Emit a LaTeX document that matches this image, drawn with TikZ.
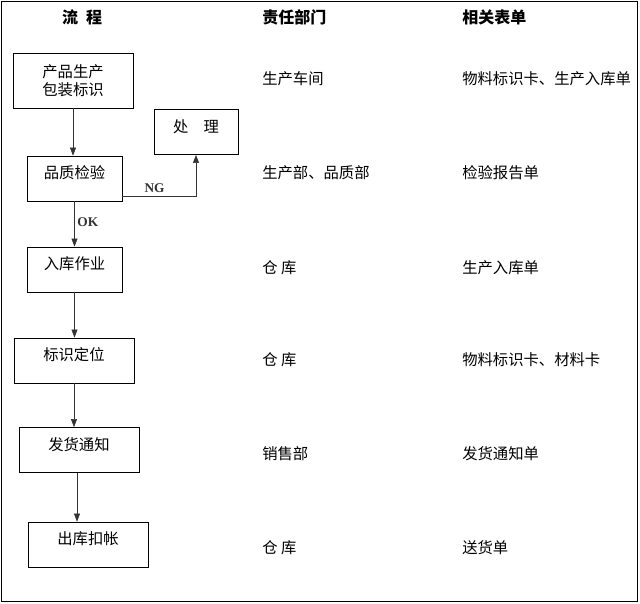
\documentclass[tikz,border=0pt]{standalone}
\usepackage{fontspec}
\setmainfont{Liberation Serif}
\newfontfamily\cjk{Noto Sans CJK SC}
\usetikzlibrary{arrows.meta, positioning}

\begin{document}
\begin{tikzpicture}[
        x=0.75pt, y=-0.75pt,
        font=\cjk\fontsize{11.5}{13.5}\selectfont,
        proc/.style={rectangle, draw, minimum width=90pt, minimum height=34pt, align=center, inner sep=1pt},
        up/.style={text height=9pt, text depth=9pt},
        head/.style={font=\cjk\bfseries\fontsize{12}{14}\selectfont},
        info/.style={anchor=west, inner sep=0pt},
        tag/.style={font=\bfseries\fontsize{10}{11}\selectfont, inner sep=2pt},
        arr/.style={-{Triangle[length=6pt, width=4.5pt]}, black!80},
    ]
    \useasboundingbox (0,0) rectangle (640,604);
    \draw (1.5,1.5) rectangle (637.5,601.5);

    % headings
    \node[head] (hflow) at (82,17) {流\enspace 程};
    \node[head, info] (hdept) at (262,17) {责任部门};
    \node[head, info] (hform) at (462,17) {相关表单};

    % flow boxes
    \node[proc, minimum height=41pt] (pack) at (73,80.5) {产品生产\\包装标识};
    \node[proc, up, minimum width=63pt] (deal) at (196,132) {处\quad 理};
    \node[proc, up, minimum width=71pt] (check) at (74.5,178.5) {品质检验};
    \node[proc, up, minimum width=71pt] (store) at (74.5,269.5) {入库作业};
    \node[proc, up] (locate) at (74,360.5) {标识定位};
    \node[proc, up] (notice) at (79,450) {发货通知};
    \node[proc, up] (out) at (88,544.5) {出库扣帐};

    \draw[arr] (pack.south) -- (pack.south |- check.north);
    \draw[arr] ([yshift=-13pt]check.east) -| node[tag, above, pos=0.22] {NG} (deal.south);
    \draw[arr] (check.south) -- node[tag, right, pos=0.45] {OK} (check.south |- store.north);
    \draw[arr] (store.south) -- (store.south |- locate.north);
    \draw[arr] (locate.south) -- (locate.south |- notice.north);
    \draw[arr] ([xshift=-1.5pt]notice.south) -- ([xshift=-1.5pt]notice.south |- out.north);

    % departments
    \node[info] (d1) at (262,79) {生产车间};
    \node[info] (d2) at (262,173) {生产部、品质部};
    \node[info] (d3) at (262,268) {仓\ 库};
    \node[info] (d4) at (262,360) {仓\ 库};
    \node[info] (d5) at (262,454) {销售部};
    \node[info] (d6) at (262,548) {仓\ 库};

    % forms
    \node[info] (f1) at (462,79) {物料标识卡、生产入库单};
    \node[info] (f2) at (462,173) {检验报告单};
    \node[info] (f3) at (462,268) {生产入库单};
    \node[info] (f4) at (462,360) {物料标识卡、材料卡};
    \node[info] (f5) at (462,454) {发货通知单};
    \node[info] (f6) at (462,548) {送货单};
\end{tikzpicture}
\end{document}
